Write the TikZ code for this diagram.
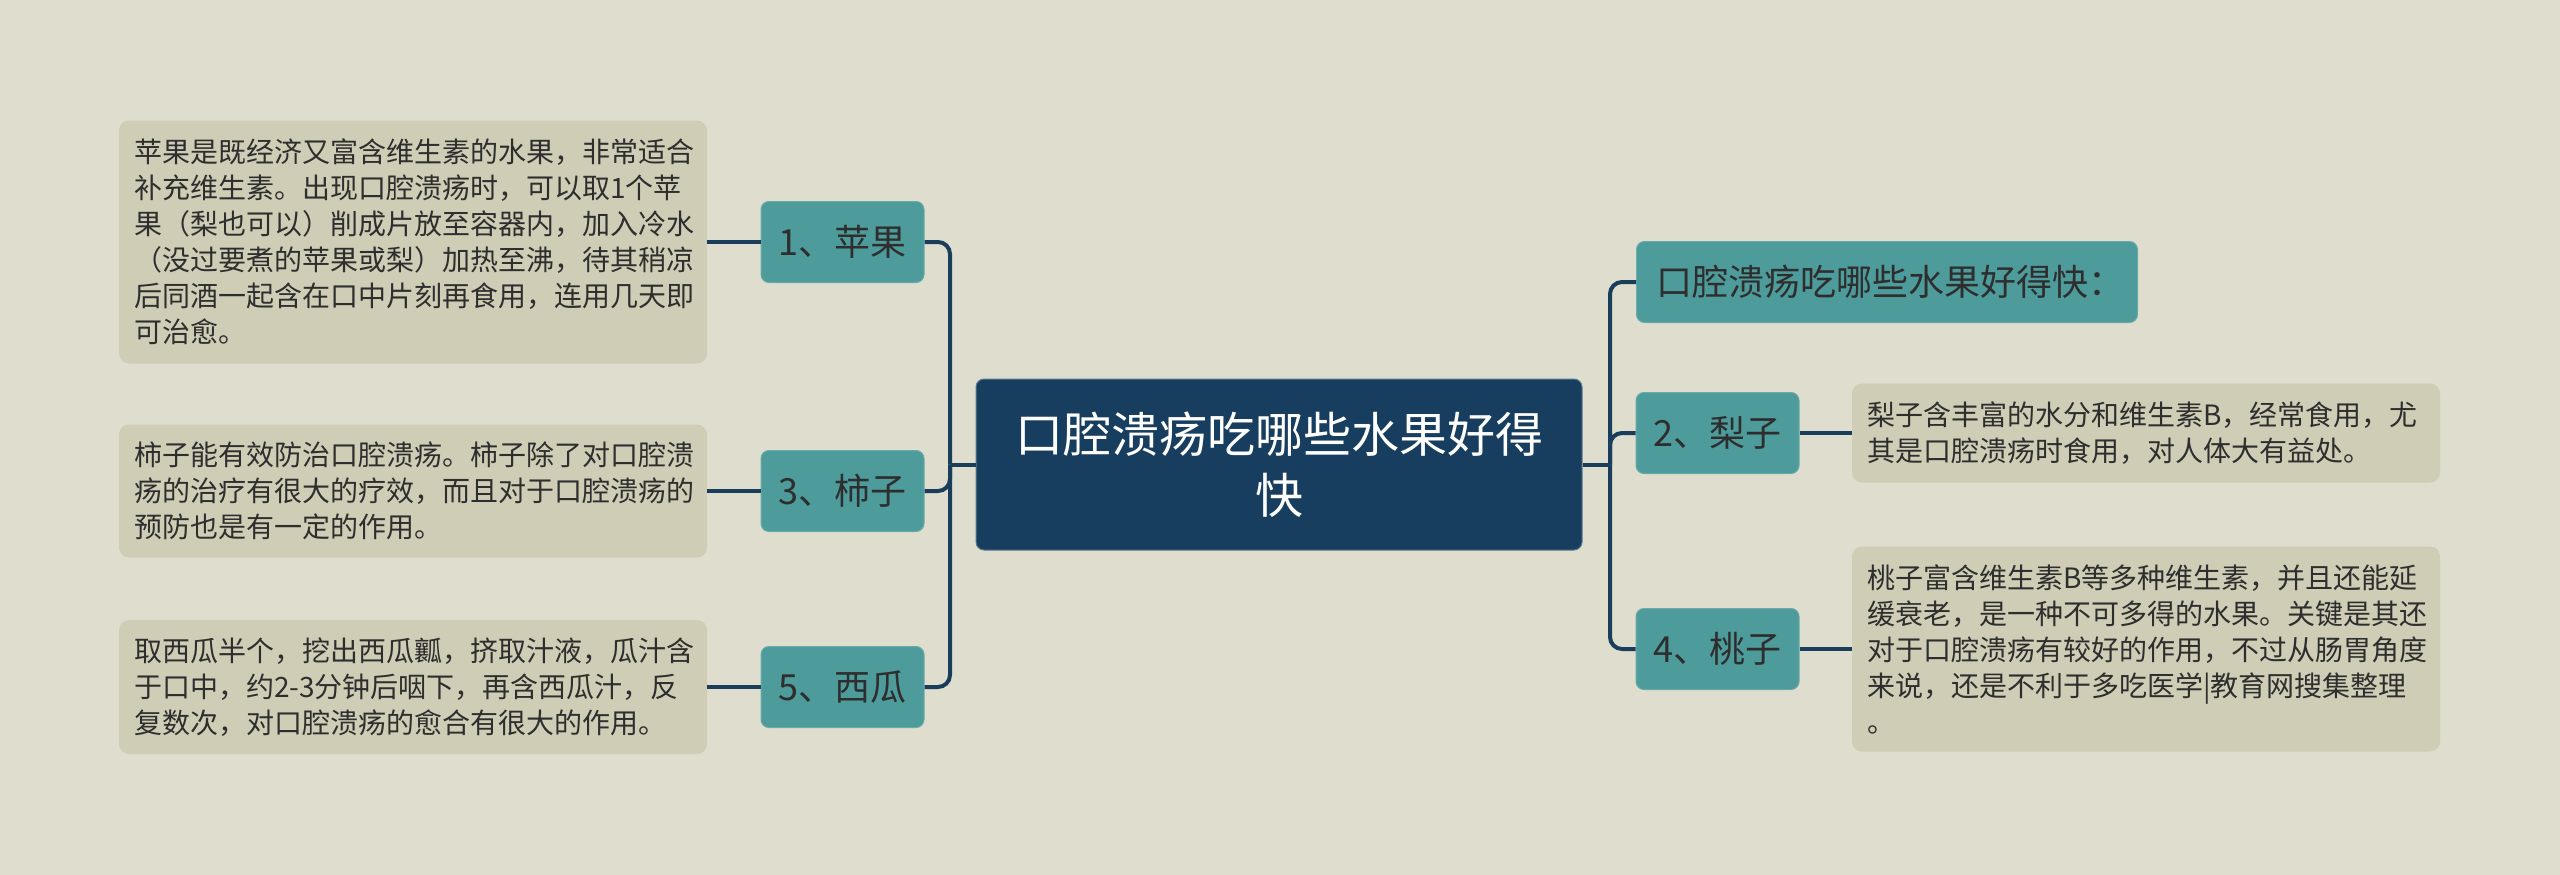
\documentclass[tikz,border=0pt]{standalone}
\usepackage{fontspec}
\setmainfont{Noto Sans CJK SC}
\definecolor{bg}{HTML}{DFDDCD}
\definecolor{teal1}{HTML}{4E9B9B}
\definecolor{rootc}{HTML}{173E5E}
\definecolor{beige}{HTML}{CFCDB5}
\definecolor{linec}{HTML}{1A3D5C}
\definecolor{txt}{HTML}{2E2E2E}
\begin{document}
\begin{tikzpicture}[x=1pt,y=-1pt,
  rootbox/.style={fill=rootc, draw=rootc!70!white, line width=1pt, rounded corners=8, text=white,
    minimum width=606, minimum height=171, text width=560, align=center,
    font=\fontsize{48}{61}\selectfont, inner sep=0pt},
  topic/.style={fill=teal1, draw=teal1!85!white, line width=1pt, rounded corners=8, text=txt,
    minimum height=81, inner xsep=16pt, font=\fontsize{36}{42}\selectfont},
  topicw/.style={topic, minimum width=163},
  note/.style={fill=beige, rounded corners=10, text=txt, minimum width=588,
    text width=558, align=left, inner xsep=15pt, font=\fontsize{28}{36}\selectfont},
  conn/.style={draw=linec, line width=4pt, rounded corners=12}
]
\useasboundingbox[fill=bg] (0,0) rectangle (2560,875);

\node[rootbox] (root) at (1279,464.5) {口腔溃疡吃哪些水果好得\\快};

% left side
\node[topicw] (t1) at (842.5,242) {1、苹果};
\node[topicw] (t3) at (842.5,491) {3、柿子};
\node[topicw] (t5) at (842.5,687) {5、西瓜};

\node[note, minimum height=243] (n1) at (413,242) {苹果是既经济又富含维生素的水果，非常适合\\补充维生素。出现口腔溃疡时，可以取1个苹\\果（梨也可以）削成片放至容器内，加入冷水\\（没过要煮的苹果或梨）加热至沸，待其稍凉\\后同酒一起含在口中片刻再食用，连用几天即\\可治愈。};
\node[note, minimum height=133] (n3) at (413,491) {柿子能有效防治口腔溃疡。柿子除了对口腔溃\\疡的治疗有很大的疗效，而且对于口腔溃疡的\\预防也是有一定的作用。};
\node[note, minimum height=134] (n5) at (413,687) {取西瓜半个，挖出西瓜瓤，挤取汁液，瓜汁含\\于口中，约2-3分钟后咽下，再含西瓜汁，反\\复数次，对口腔溃疡的愈合有很大的作用。};

% right side
\node[topic, minimum width=501, text width=461, align=left, inner xsep=20pt, anchor=west] (t0) at (1636,282) {口腔溃疡吃哪些水果好得快：};
\node[topicw] (t2) at (1717.5,433) {2、梨子};
\node[topicw] (t4) at (1717.5,649) {4、桃子};

\node[note, minimum height=99] (n2) at (2146,433) {梨子含丰富的水分和维生素B，经常食用，尤\\其是口腔溃疡时食用，对人体大有益处。};
\node[note, minimum height=205] (n4) at (2146,649) {桃子富含维生素B等多种维生素，并且还能延\\缓衰老，是一种不可多得的水果。关键是其还\\对于口腔溃疡有较好的作用，不过从肠胃角度\\来说，还是不利于多吃医学|教育网搜集整理\\。};

% connectors
\coordinate (lj) at (950,464.5);
\coordinate (rj) at (1610,464.5);
\draw[conn] (root.west) -- (lj);
\draw[conn] (root.east) -- (rj);
\foreach \c in {t1,t3,t5} {\draw[conn] (lj) |- (\c.east);}
\foreach \c in {t0,t2,t4} {\draw[conn] (rj) |- (\c.west);}
\draw[conn] (t1.west) -- (n1.east |- t1.west);
\draw[conn] (t3.west) -- (n3.east |- t3.west);
\draw[conn] (t5.west) -- (n5.east |- t5.west);
\draw[conn] (t2.east) -- (n2.west |- t2.east);
\draw[conn] (t4.east) -- (n4.west |- t4.east);
\end{tikzpicture}
\end{document}
